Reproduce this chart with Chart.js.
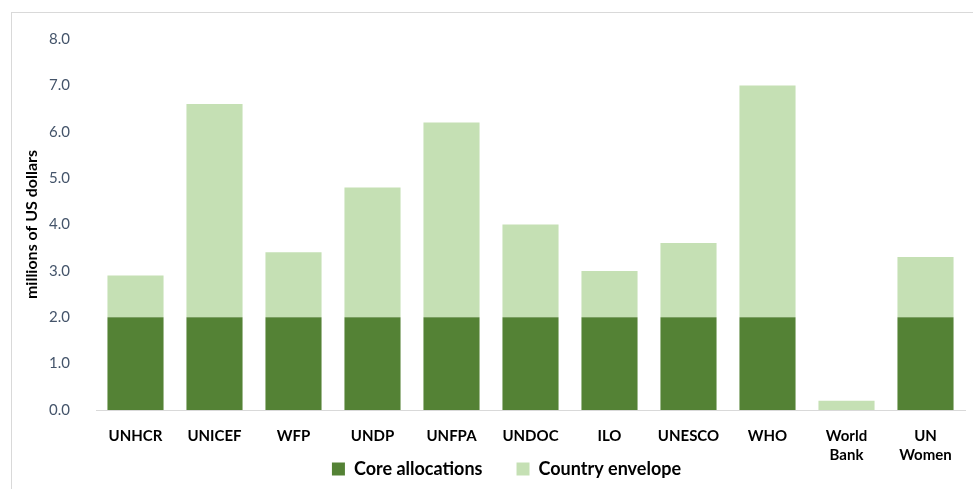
<!DOCTYPE html>
<html>
<head>
<meta charset="utf-8">
<script src="https://cdn.jsdelivr.net/npm/chart.js@4"></script>
<style>
  body { margin: 0; background: #fff; }
  #wrap { position: relative; width: 973px; height: 489px; }
  #frame { position: absolute; left: 11px; top: 12px; width: 970px; height: 490px; border: 1px solid #d9d9d9; box-sizing: border-box; }
</style>
</head>
<body>
<div id="wrap">
  <div id="frame"></div>
  <canvas id="chart" width="973" height="489"></canvas>
</div>
<script>
const agencies = ['UNHCR', 'UNICEF', 'WFP', 'UNDP', 'UNFPA', 'UNDOC', 'ILO', 'UNESCO', 'WHO', ['World', 'Bank'], ['UN', 'Women']];
const coreAllocations = [2.0, 2.0, 2.0, 2.0, 2.0, 2.0, 2.0, 2.0, 2.0, 0, 2.0];
const countryEnvelope = [0.9, 4.6, 1.4, 2.8, 4.2, 2.0, 1.0, 1.6, 5.0, 0.2, 1.3];
const yTicks = [0, 1, 2, 3, 4, 5, 6, 7, 8];

const ctx = document.querySelector('#chart').getContext('2d');

// pull the legend up so it sits right under the two-line labels
const legendShift = {
    id: 'legendShift',
    afterLayout(chart) {
        const lg = chart.legend;
        const d = 426 - lg.top;
        lg.top += d;
        lg.bottom += d;
        lg.left += 13;
        lg.right += 13;
    }
};

new Chart(ctx, {
    type: 'bar',
    data: {
        labels: agencies,
        datasets: [
            {
                label: 'Core allocations',
                data: coreAllocations,
                backgroundColor: '#548235'
            },
            {
                label: 'Country envelope',
                data: countryEnvelope,
                backgroundColor: '#c5e0b4'
            }
        ]
    },
    plugins: [legendShift],
    options: {
        responsive: false,
        animation: false,
        layout: { padding: { left: 22, right: 8, top: 39, bottom: -43 } },
        datasets: { bar: { categoryPercentage: 1, barPercentage: 0.71 } },
        plugins: {
            tooltip: { enabled: false },
            legend: {
                position: 'bottom',
                labels: {
                    font: { family: 'Lato', size: 18, weight: 'bold' },
                    color: '#000',
                    boxWidth: 13,
                    boxHeight: 13,
                    padding: 34
                }
            }
        },
        scales: {
            x: {
                stacked: true,
                afterFit: (axis) => { axis.height = 60; },
                grid: { display: false },
                border: { color: '#d9d9d9' },
                ticks: {
                    font: { family: 'Lato', size: 15, weight: 'bold', lineHeight: 1.3 },
                    color: '#000',
                    maxRotation: 0,
                    padding: 8
                }
            },
            y: {
                stacked: true,
                min: 0,
                max: 8,
                afterFit: (axis) => { axis.width = 74; },
                afterBuildTicks: (axis) => { axis.ticks = yTicks.map(v => ({ value: v })); },
                grid: { display: false },
                border: { display: false },
                ticks: {
                    font: { family: 'Lato', size: 15 },
                    color: '#44546a',
                    padding: 18,
                    callback: (v) => v.toFixed(1)
                },
                title: {
                    display: true,
                    text: 'millions of US dollars',
                    font: { family: 'Lato', size: 16, weight: 'bold' },
                    color: '#000',
                    padding: { top: 0, bottom: 0 }
                }
            }
        }
    }
});
</script>
</body>
</html>
